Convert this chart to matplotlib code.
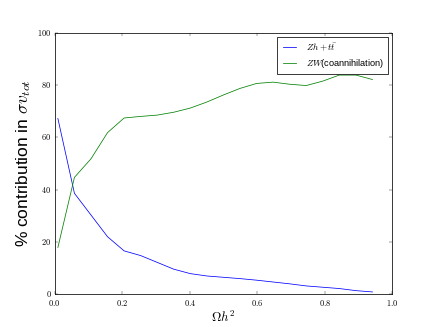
import matplotlib
matplotlib.use("Agg")
import matplotlib.pyplot as plt
from matplotlib.ticker import FuncFormatter

omega_h2 = [0.010, 0.059, 0.108, 0.157, 0.206, 0.255, 0.304, 0.353, 0.402, 0.451,
            0.500, 0.549, 0.598, 0.647, 0.696, 0.745, 0.794, 0.843, 0.892, 0.941]
zh_tt = [67.2, 38.6, 30.3, 22.0, 16.6, 14.8, 12.2, 9.6, 7.9, 7.0,
         6.5, 6.0, 5.4, 4.7, 4.0, 3.2, 2.7, 2.2, 1.4, 0.9]
zw_coann = [17.9, 44.7, 51.8, 61.8, 67.4, 68.0, 68.5, 69.6, 71.2, 73.5,
            76.2, 78.7, 80.6, 81.1, 80.3, 79.8, 81.5, 83.8, 83.8, 82.1]

plt.style.use("classic")
plt.rcParams["font.family"] = ["Liberation Sans", "DejaVu Sans"]
plt.rcParams["mathtext.fontset"] = "cm"

fig = plt.figure(figsize=(8, 6), dpi=54.5)
ax = fig.add_subplot(111)

ax.plot(omega_h2, zh_tt, color="b", lw=1, label=r"$Zh+t\bar{t}$")
ax.plot(omega_h2, zw_coann, color="g", lw=1, label=r"$ZW$(coannihilation)")

ax.set_xlim(0, 1)
ax.set_ylim(0, 100)
ax.xaxis.set_major_formatter(FuncFormatter(lambda v, p: r"$%.1f$" % v))
ax.yaxis.set_major_formatter(FuncFormatter(lambda v, p: r"$%d$" % v))
ax.tick_params(labelsize=11)
ax.tick_params(axis="x", pad=5)

ax.set_xlabel(r"$\Omega h^2$", fontsize=17, labelpad=2)
ax.set_ylabel(r"% contribution in $\sigma v_{tot}$", fontsize=23)
ax.legend(loc="upper right", fontsize=12)

fig.savefig("out.png", dpi=54.5)
